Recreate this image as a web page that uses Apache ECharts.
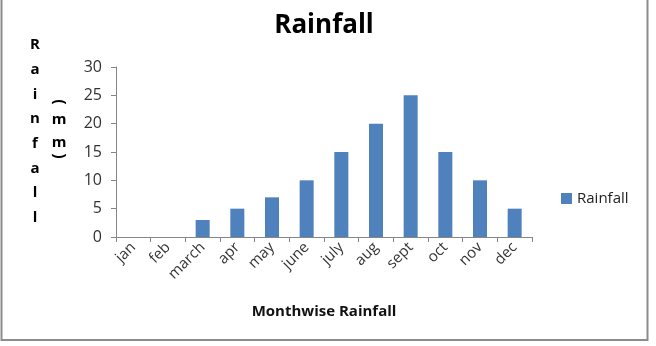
<!DOCTYPE html>
<html>
<head>
<meta charset="utf-8">
<script src="https://cdn.jsdelivr.net/npm/echarts@6/dist/echarts.min.js"></script>
<style>
html,body{margin:0;padding:0;background:#fff;}
#c{width:656px;height:346px;}
</style>
</head>
<body>
<div id="c"></div>
<script>
const categories = ['jan','feb','march','apr','may','june','july','aug','sept','oct','nov','dec'];
const rainfall = [0,0,3,5,7,10,15,20,25,15,10,5];
const yTicks = [0,5,10,15,20,25,30];
const titleText = 'Rainfall';
const seriesName = 'Rainfall';
const xAxisTitle = 'Monthwise Rainfall';
const yTitleLetters = ['R','a','i','n','f','a','l','l'];

const FONT = '"Open Sans", "Liberation Sans", sans-serif';
const chart = echarts.init(document.getElementById('c'), null, {renderer:'canvas'});

function letter(ch, x, y, rot, size){
  return {type:'text', x:x, y:y, rotation:rot||0,
    style:{text:ch, fontFamily:FONT, fontWeight:'bold', fontSize:size||15, fill:'#000', align:'center', verticalAlign:'middle'}};
}
const graphics = [
  {type:'rect', shape:{x:1.5, y:-5, width:646, height:345}, style:{fill:'none', stroke:'#8c8c8c', lineWidth:2}, silent:true}
];
yTitleLetters.forEach((ch,i)=>{ graphics.push(letter(ch, 35, 45 + i*24.7)); });
graphics.push(letter('(', 59, 102, -Math.PI/2, 16));
graphics.push(letter('m', 59, 120));
graphics.push(letter('m', 59, 143));
graphics.push(letter(')', 59, 156, -Math.PI/2, 16));

chart.setOption({
  animation:false,
  backgroundColor:'#fff',
  title:{text:titleText, left:319, textAlign:'center', top:8, textStyle:{fontFamily:FONT, fontWeight:'bold', fontSize:26, color:'#000'}},
  legend:{data:[seriesName], left:556, top:186, itemWidth:11, itemHeight:11, itemGap:4, icon:'rect',
    textStyle:{fontFamily:FONT, fontSize:15, color:'#222', padding:[0,0,0,0]}},
  grid:{left:116, right:124, top:67, bottom:109, containLabel:false},
  xAxis:{type:'category', data:categories,
    name:xAxisTitle, nameLocation:'middle', nameGap:67,
    nameTextStyle:{fontFamily:FONT, fontWeight:'bold', fontSize:15, color:'#111'},
    axisLine:{lineStyle:{color:'#868686', width:1}},
    axisTick:{show:true, length:5, lineStyle:{color:'#868686'}},
    axisLabel:{rotate:45, fontFamily:FONT, fontSize:15, color:'#333', margin:8, interval:0}
  },
  yAxis:{type:'value', min:0, max:30, interval:5,
    axisLine:{show:true, lineStyle:{color:'#868686', width:1}},
    axisTick:{show:true, length:5, lineStyle:{color:'#868686'}},
    splitLine:{show:false},
    axisLabel:{fontFamily:FONT, fontSize:16, color:'#333', margin:14}
  },
  series:[{name:seriesName, type:'bar', data:rainfall, barWidth:14, itemStyle:{color:'#4F81BD'}}],
  graphic:graphics
});
</script>
</body>
</html>
